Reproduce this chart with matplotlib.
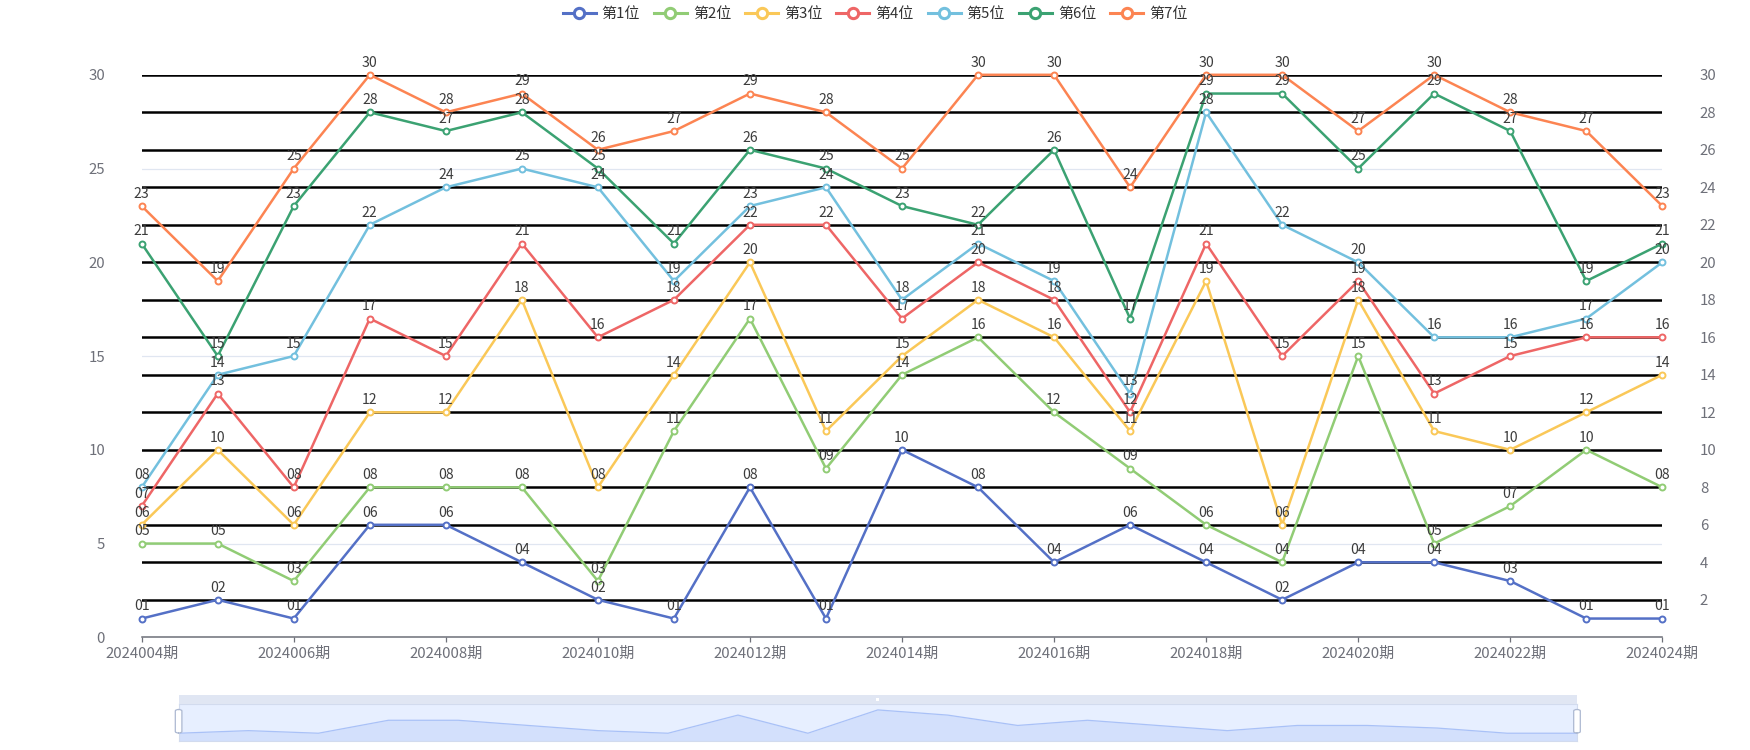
import matplotlib
matplotlib.use('Agg')
import matplotlib.pyplot as plt
from matplotlib.lines import Line2D
from matplotlib.patches import FancyBboxPatch, Rectangle

plt.rcParams['font.family'] = ['Noto Sans CJK SC', 'DejaVu Sans']

periods = ['2024004期', '2024005期', '2024006期', '2024007期', '2024008期', '2024009期',
           '2024010期', '2024011期', '2024012期', '2024013期', '2024014期', '2024015期',
           '2024016期', '2024017期', '2024018期', '2024019期', '2024020期', '2024021期',
           '2024022期', '2024023期', '2024024期']

series_names = ['第1位', '第2位', '第3位', '第4位', '第5位', '第6位', '第7位']
series_colors = ['#5470c6', '#91cc75', '#fac858', '#ee6666', '#73c0de', '#3ba272', '#fc8452']

pos1 = [1, 2, 1, 6, 6, 4, 2, 1, 8, 1, 10, 8, 4, 6, 4, 2, 4, 4, 3, 1, 1]
pos2 = [5, 5, 3, 8, 8, 8, 3, 11, 17, 9, 14, 16, 12, 9, 6, 4, 15, 5, 7, 10, 8]
pos3 = [6, 10, 6, 12, 12, 18, 8, 14, 20, 11, 15, 18, 16, 11, 19, 6, 18, 11, 10, 12, 14]
pos4 = [7, 13, 8, 17, 15, 21, 16, 18, 22, 22, 17, 20, 18, 12, 21, 15, 19, 13, 15, 16, 16]
pos5 = [8, 14, 15, 22, 24, 25, 24, 19, 23, 24, 18, 21, 19, 13, 28, 22, 20, 16, 16, 17, 20]
pos6 = [21, 15, 23, 28, 27, 28, 25, 21, 26, 25, 23, 22, 26, 17, 29, 29, 25, 29, 27, 19, 21]
pos7 = [23, 19, 25, 30, 28, 29, 26, 27, 29, 28, 25, 30, 30, 24, 30, 30, 27, 30, 28, 27, 23]
series_values = [pos1, pos2, pos3, pos4, pos5, pos6, pos7]

left_ticks = [0, 5, 10, 15, 20, 25, 30]
right_ticks = [2, 4, 6, 8, 10, 12, 14, 16, 18, 20, 22, 24, 26, 28, 30]

W, H = 1750, 750
fig = plt.figure(figsize=(W / 100, H / 100), dpi=100)


def px_box(l, t, r, b):
    return [l / W, 1 - b / H, (r - l) / W, (b - t) / H]


AXIS_GRAY = '#6e7079'
x = list(range(len(periods)))

ax = fig.add_axes(px_box(141.7, 74.8, 1662.3, 637.3))
ax.set_xlim(0, len(periods) - 1)
ax.set_ylim(0, 30)
ax.set_yticks(left_ticks)
ax.yaxis.grid(True, color='#e0e6f1', lw=0.9)
ax.set_axisbelow(True)
for s in ['left', 'right', 'top']:
    ax.spines[s].set_visible(False)
ax.spines['bottom'].set_color(AXIS_GRAY)
ax.spines['bottom'].set_linewidth(1.1)
ax.set_xticks(x[::2])
ax.set_xticklabels(periods[::2])
ax.tick_params(axis='x', length=3.8, width=0.9, color=AXIS_GRAY, pad=3.2,
               labelsize=10.8, labelcolor=AXIS_GRAY)
ax.tick_params(axis='y', length=0, pad=26.5, labelsize=10.8, labelcolor=AXIS_GRAY)

ax2 = ax.twinx()
ax2.set_ylim(0, 30)
ax2.set_yticks(right_ticks)
ax2.yaxis.grid(True, color='black', lw=1.8)
ax2.set_axisbelow(True)
for s in ['left', 'right', 'top', 'bottom']:
    ax2.spines[s].set_visible(False)
ax2.tick_params(axis='y', length=0, pad=27, labelsize=10.8, labelcolor=AXIS_GRAY)

for i, (name, vals, col) in enumerate(zip(series_names, series_values, series_colors)):
    ax2.plot(x, vals, color=col, lw=1.8, marker='o', ms=4.3, mfc='white', mec=col,
             mew=1.4, zorder=3 + i, clip_on=False)
for i, vals in enumerate(series_values):
    for xi, v in zip(x, vals):
        ax2.annotate(f'{v:02d}', (xi, v), xytext=(0, 5.8), textcoords='offset points',
                     ha='center', va='baseline', fontsize=10.1, color='#3c3c3c',
                     zorder=30, annotation_clip=False)

handles = [Line2D([], [], color=c, lw=2.2, marker='o', ms=7.4, mfc='white', mec=c, mew=2.2)
           for c in series_colors]
fig.legend(handles, series_names, loc='center', bbox_to_anchor=(0.5, 1 - 14 / H), ncol=7,
           frameon=False, fontsize=10.8, handlelength=2.2, handletextpad=0.4,
           columnspacing=0.93, labelcolor='#333333', borderpad=0, borderaxespad=0)

# data zoom slider
sl, sr, st, sb = 178.6, 1577.0, 703.7, 741.0
fig.add_artist(Rectangle(((sl) / W, 1 - st / H), (sr - sl) / W, 8.7 / H,
                         transform=fig.transFigure, facecolor='#e0e6f3', edgecolor='none'))
fig.add_artist(Rectangle((876 / W, 1 - 700.5 / H), 3 / W, 3 / H,
                         transform=fig.transFigure, facecolor='white', edgecolor='none'))
sax = fig.add_axes(px_box(sl, st, sr, sb))
sax.set_xlim(0, len(periods) - 1)
sax.set_ylim(-2.0, 12.4)
sax.set_facecolor('#e7efff')
sax.fill_between(x, pos1, -2.0, color='#d3e0fc', lw=0)
sax.plot(x, pos1, color='#a9c1f7', lw=0.9)
sax.set_xticks([])
sax.set_yticks([])
for s in sax.spines.values():
    s.set_color('#d2dbee')
    s.set_linewidth(0.8)
for hx in (sl, sr):
    fig.add_artist(FancyBboxPatch(((hx - 3.3) / W, 1 - 733 / H), 6.6 / W, 23.5 / H,
                                  boxstyle='round,pad=0,rounding_size=0.002',
                                  transform=fig.transFigure, facecolor='white',
                                  edgecolor='#acb8d1', lw=0.9, zorder=10))

fig.savefig('out.png', dpi=100, facecolor='white')
